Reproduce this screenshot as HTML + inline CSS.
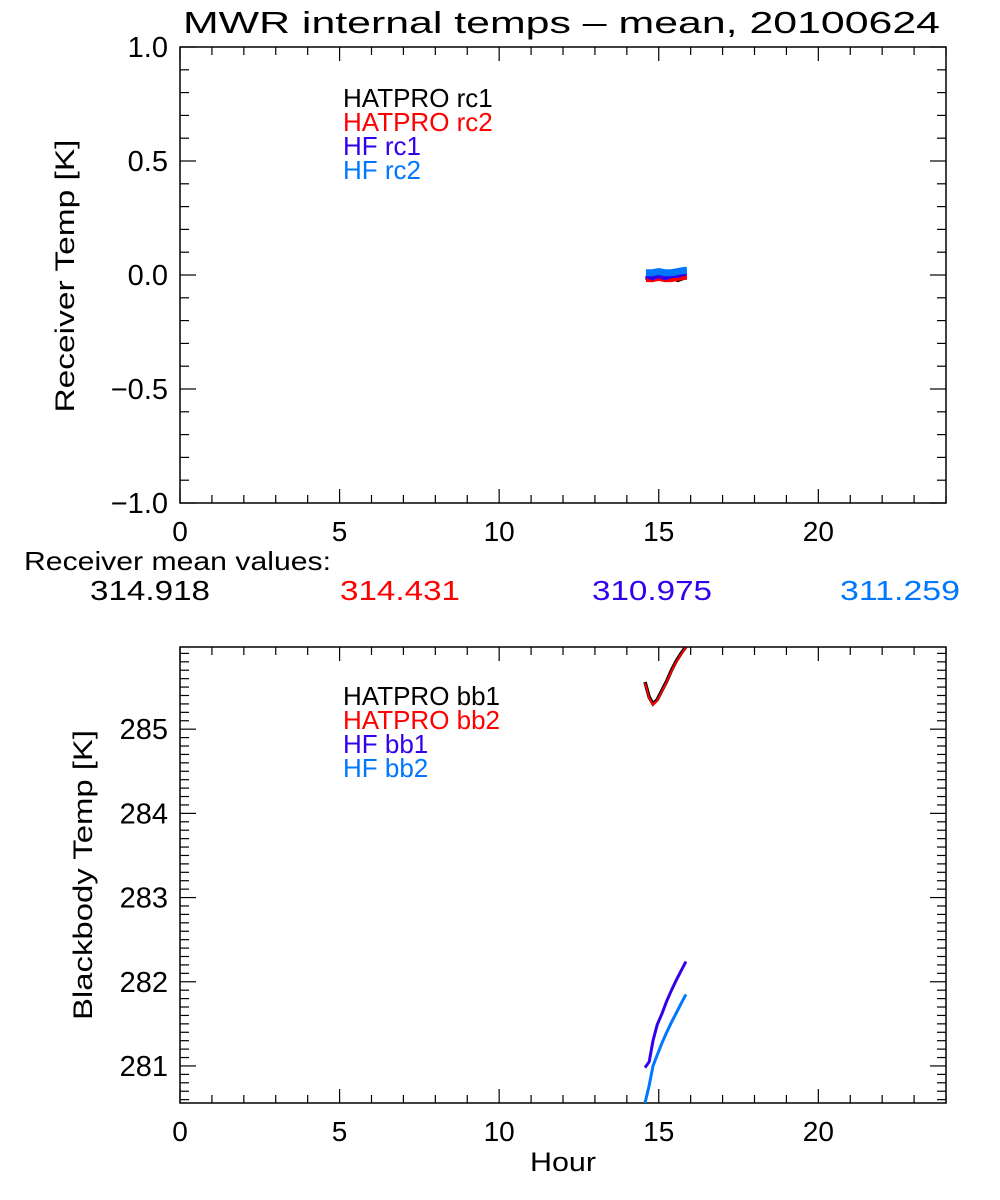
<!DOCTYPE html>
<html><head><meta charset="utf-8"><style>
body{margin:0;background:#fff;}
svg{display:block;font-family:"Liberation Sans",sans-serif;}
text{font-weight:normal;}
</style></head><body>
<svg id="s" width="1000" height="1200" viewBox="0 0 1000 1200">
<text x="183" y="33" font-size="31" textLength="757" lengthAdjust="spacingAndGlyphs" fill="#000">MWR internal temps – mean, 20100624</text>
<text x="74" y="276" font-size="27" text-anchor="middle" textLength="273" lengthAdjust="spacingAndGlyphs" transform="rotate(-90 74 276)" fill="#000">Receiver Temp [K]</text>
<text x="92" y="875" font-size="27" text-anchor="middle" textLength="290" lengthAdjust="spacingAndGlyphs" transform="rotate(-90 92 875)" fill="#000">Blackbody Temp [K]</text>
<text x="530" y="1171" font-size="27" textLength="66" lengthAdjust="spacingAndGlyphs" fill="#000">Hour</text>
<text x="24" y="570" font-size="26" textLength="307" lengthAdjust="spacingAndGlyphs" fill="#000">Receiver mean values:</text>
<g id="means"></g>
<g id="topPanel"></g>
<g id="botPanel"></g>
</svg>
<script>
const hours=[14.57,14.7,14.82,14.95,15.1,15.25,15.4,15.55,15.7,15.85];
const hatBb1=[285.56,285.38,285.30,285.35,285.46,285.57,285.70,285.81,285.90,285.98];
const hatBb2=[285.55,285.37,285.29,285.34,285.45,285.56,285.69,285.80,285.89,285.97];
const hfBb1=[280.98,281.05,281.30,281.49,281.62,281.77,281.90,282.02,282.13,282.24];
const hfBb2=[280.56,280.77,281.00,281.13,281.27,281.40,281.52,281.63,281.74,281.85];
const rcHours=[14.6,14.8,15.0,15.2,15.4,15.6,15.8,15.88];
const hatRc1=[-0.01,-0.02,-0.01,-0.02,-0.01,-0.02,-0.01,-0.01];
const hatRc2=[-0.02,-0.02,-0.015,-0.02,-0.02,-0.015,-0.01,-0.01];
const hfRc1=[0.0,-0.01,0.0,-0.01,0.0,0.0,0.01,0.01];
const hfRc2=[0.01,0.01,0.015,0.01,0.01,0.015,0.02,0.02];
const meanVals=["314.918","314.431","310.975","311.259"];
const colors=["#000000","#ff0000","#3300ee","#0077ff"];
const xTicks=[0,5,10,15,20];
const topYTicks=["−1.0","−0.5","0.0","0.5","1.0"];
const topYVals=[-1,-0.5,0,0.5,1];
const botYVals=[281,282,283,284,285];
const NS="http://www.w3.org/2000/svg";
function el(tag,attrs,parent){const e=document.createElementNS(NS,tag);for(const k in attrs)e.setAttribute(k,attrs[k]);parent.appendChild(e);return e;}
const X0=180,X1=946;
const xs=h=>X0+(h/24)*(X1-X0);
function panel(g,Y0,Y1,vmin,vmax,minorStep,majorVals,majorLabels,name){
  const ys=v=>Y1-(v-vmin)/(vmax-vmin)*(Y1-Y0);
  const r=el('rect',{x:X0,y:Y0,width:X1-X0,height:Y1-Y0,fill:'none',stroke:'#000','stroke-width':1.5},g);
  
  
  for(let h=0;h<=24;h++){
    const len=h%5==0?14:8;
    el('line',{x1:xs(h),x2:xs(h),y1:Y1,y2:Y1-len,stroke:'#000','stroke-width':1.2},g);
    el('line',{x1:xs(h),x2:xs(h),y1:Y0,y2:Y0+len,stroke:'#000','stroke-width':1.2},g);
  }
  xTicks.forEach(t=>{const tx=el('text',{x:xs(t),y:Y1+38,'font-size':28,'text-anchor':'middle',fill:'#000'},g);tx.textContent=t;
    
    });
  const start=Math.ceil(vmin/minorStep-1e-6);
  for(let i=start;i*minorStep<=vmax+1e-9;i++){
    const v=i*minorStep;const isMaj=majorVals.some(m=>Math.abs(m-v)<1e-6);
    const len=isMaj?16:9;
    el('line',{x1:X0,x2:X0+len,y1:ys(v),y2:ys(v),stroke:'#000','stroke-width':1.2},g);
    el('line',{x1:X1,x2:X1-len,y1:ys(v),y2:ys(v),stroke:'#000','stroke-width':1.2},g);
  }
  majorVals.forEach((v,i)=>{const tx=el('text',{x:X0-12,y:ys(v)+10,'font-size':29,'text-anchor':'end',fill:'#000'},g);tx.textContent=majorLabels[i];
    
    });
  return ys;
}
function legend(g,labels,y0){
  labels.forEach((l,i)=>{const t=el('text',{x:343,y:y0+i*24,'font-size':26,fill:colors[i]},g);t.textContent=l;
    
    });
}
function series(g,xsArr,ysArr,ys,c,w,nm){
  const d=xsArr.map((h,i)=>(i?'L':'M')+xs(h).toFixed(1)+','+ys(ysArr[i]).toFixed(1)).join(' ');
  const p=el('path',{d:d,fill:'none',stroke:c,'stroke-width':w},g);
  
  
}
const topG=document.getElementById('topPanel');
const ysT=panel(topG,47,503,-1,1,0.1,topYVals,topYTicks,'top');
const topClip=el('clipPath',{id:'ct'},topG);el('rect',{x:X0,y:47,width:X1-X0,height:456},topClip);
const tg=el('g',{'clip-path':'url(#ct)'},topG);
series(tg,rcHours,hatRc1,ysT,colors[0],5,'hatpro-rc1-line');
series(tg,rcHours,hatRc2,ysT,colors[1],5,'hatpro-rc2-line');
series(tg,rcHours,hfRc1,ysT,colors[2],6,'hf-rc1-line');
series(tg,rcHours,hfRc2,ysT,colors[3],7,'hf-rc2-line');
legend(topG,["HATPRO rc1","HATPRO rc2","HF rc1","HF rc2"],107);
const botG=document.getElementById('botPanel');
const ysB=panel(botG,647,1103,280.56,285.976,0.1,botYVals,botYVals.map(String),'bottom');
const botClip=el('clipPath',{id:'cb'},botG);el('rect',{x:X0,y:647,width:X1-X0,height:456},botClip);
const bg=el('g',{'clip-path':'url(#cb)'},botG);
series(bg,hours,hatBb1,ysB,colors[0],3.5,'hatpro-bb1-line');
series(bg,hours,hatBb2,ysB,colors[1],2,'hatpro-bb2-line');
series(bg,hours,hfBb1,ysB,colors[2],3,'hf-bb1-line');
series(bg,hours,hfBb2,ysB,colors[3],3,'hf-bb2-line');
legend(botG,["HATPRO bb1","HATPRO bb2","HF bb1","HF bb2"],705);
const means=document.getElementById('means');
const mx=[150,400,652,900];
meanVals.forEach((v,i)=>{const t=el('text',{x:mx[i],y:600,'font-size':28,'text-anchor':'middle',textLength:120,lengthAdjust:'spacingAndGlyphs',fill:colors[i]},means);t.textContent=v;
  
  });
</script>
</body></html>
